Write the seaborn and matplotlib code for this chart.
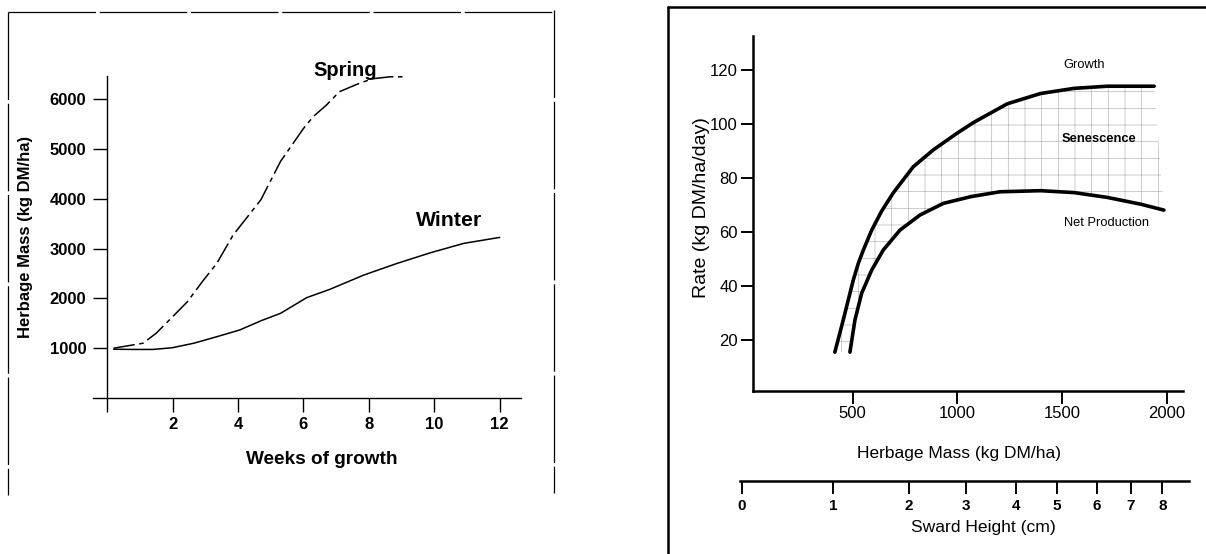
import numpy as np
import matplotlib
matplotlib.use("Agg")
import matplotlib.pyplot as plt
from matplotlib.lines import Line2D
import seaborn as sns

# left panel: herbage mass over weeks of growth
weeks_spring = [0.2, 1.1, 1.5, 2.0, 2.45, 2.95, 3.35, 3.85, 4.7, 5.3, 6.0, 6.3, 6.7, 7.1, 7.6, 8.1, 8.65, 9.15]
mass_spring = [1000, 1100, 1300, 1630, 1930, 2370, 2700, 3270, 3980, 4750, 5410, 5650, 5880, 6150, 6290, 6410, 6450, 6450]
weeks_winter = [0.2, 0.8, 1.4, 2.0, 2.65, 3.35, 4.05, 4.7, 5.3, 6.1, 6.8, 7.85, 8.85, 9.9, 10.9, 12.0]
mass_winter = [980, 975, 975, 1010, 1100, 1230, 1365, 1550, 1700, 2015, 2180, 2470, 2700, 2920, 3105, 3225]
week_ticks = [0, 2, 4, 6, 8, 10, 12]
week_labels = ["", "2", "4", "6", "8", "10", "12"]
mass_ticks = [1000, 2000, 3000, 4000, 5000, 6000]

# right panel: growth and net production rates vs herbage mass
growth_mass = [415, 455, 479, 503, 527, 551, 591, 639, 694, 790, 885, 997, 1076, 1239, 1398, 1557, 1717, 1940]
growth_rate = [15.5, 27.4, 34.8, 42.2, 48.4, 53.3, 60.7, 67.8, 74.5, 84.2, 90.4, 96.5, 100.5, 107.5, 111.3, 113.2, 114.0, 114.0]
net_mass = [487, 511, 543, 591, 646, 726, 822, 933, 1065, 1204, 1398, 1557, 1717, 1876, 1987]
net_rate = [15.5, 27.4, 37.3, 45.9, 53.3, 60.7, 66.3, 70.6, 73.1, 74.9, 75.3, 74.6, 72.8, 70.3, 68.1]
rate_ticks = [20, 40, 60, 80, 100, 120]
herb_ticks = [500, 1000, 1500, 2000]

# sward height scale, placed at its herbage mass equivalent
sward_height = [0, 1, 2, 3, 4, 5, 6, 7, 8]
sward_mass_equiv = [-30, 405, 770, 1040, 1280, 1475, 1665, 1830, 1980]

W, H = 1206, 554


def px_rect(left, top, right, bottom):
    return [left / W, 1 - bottom / H, (right - left) / W, (bottom - top) / H]


sns.set_theme(style="white", rc={"axes.edgecolor": "black", "text.color": "black",
                                 "xtick.color": "black", "ytick.color": "black",
                                 "axes.labelcolor": "black"})
plt.rcParams["font.family"] = ["Liberation Sans", "DejaVu Sans"]
plt.rcParams["hatch.linewidth"] = 0.5

fig = plt.figure(figsize=(W / 100, H / 100), dpi=100)

# ---- left panel
ax1 = fig.add_axes(px_rect(93, 76, 521, 398))
sns.lineplot(x=weeks_spring, y=mass_spring, ax=ax1, color="black", lw=1.1,
             linestyle=(0, (14, 3, 3, 3)), sort=False)
sns.lineplot(x=weeks_winter, y=mass_winter, ax=ax1, color="black", lw=1.1, sort=False)
ax1.set_xlim(-0.43, 12.65)
ax1.set_ylim(0, 6466)
for s in ["top", "right"]:
    ax1.spines[s].set_visible(False)
ax1.spines["left"].set_position(("data", 0))
for s in ["left", "bottom"]:
    ax1.spines[s].set_linewidth(1.0)
ax1.set_xticks(week_ticks, week_labels, fontsize=12, fontweight="bold")
ax1.set_yticks(mass_ticks, [str(v) for v in mass_ticks], fontsize=12, fontweight="bold")
ax1.tick_params(axis="both", direction="out", bottom=True, left=True, length=10, width=1.0)
ax1.tick_params(axis="x", pad=4)
ax1.tick_params(axis="y", pad=5)
ax1.set_xlabel("Weeks of growth", fontsize=13.7, fontweight="bold", va="center")
ax1.xaxis.set_label_coords(0.535, -0.19)
ax1.set_ylabel("Herbage Mass (kg DM/ha)", fontsize=12, fontweight="bold", va="center", ha="center")
ax1.yaxis.set_label_coords(-0.157, 0.5)
ax1.text(7.28, 6586, "Spring", fontsize=14.5, fontweight="bold", ha="center", va="center")
ax1.text(10.44, 3574, "Winter", fontsize=15.3, fontweight="bold", ha="center", va="center")

# ---- right panel
ax2 = fig.add_axes(px_rect(753, 36, 1183, 391))
ax2.fill(np.concatenate([growth_mass, net_mass[::-1]]),
         np.concatenate([growth_rate, net_rate[::-1]]),
         facecolor="none", edgecolor="0.72", hatch="+", lw=0)
sns.lineplot(x=growth_mass, y=growth_rate, ax=ax2, color="black", lw=2.6, sort=False)
sns.lineplot(x=net_mass, y=net_rate, ax=ax2, color="black", lw=2.6, sort=False)
ax2.set_xlim(24, 2078)
ax2.set_ylim(1.1, 132.6)
for s in ["top", "right"]:
    ax2.spines[s].set_visible(False)
for s in ["left", "bottom"]:
    ax2.spines[s].set_linewidth(1.8)
ax2.set_xticks(herb_ticks, [str(v) for v in herb_ticks], fontsize=12)
ax2.set_yticks(rate_ticks, [str(v) for v in rate_ticks], fontsize=12)
ax2.tick_params(axis="both", direction="out", bottom=True, left=True, length=9, width=1.4)
ax2.tick_params(axis="x", pad=2)
ax2.tick_params(axis="y", pad=2)
ax2.set_xlabel("Herbage Mass (kg DM/ha)", fontsize=12.5, va="center")
ax2.xaxis.set_label_coords(0.48, -0.175)
ax2.set_ylabel("Rate (kg DM/ha/day)", fontsize=14, va="center", ha="center")
ax2.yaxis.set_label_coords(-0.119, 0.518)
ax2.text(1605, 121.9, "Growth", fontsize=9.3, ha="center", va="center")
ax2.text(1677, 94.3, "Senescence", fontsize=9.3, fontweight="bold", ha="center", va="center")
ax2.text(1713, 63.5, "Net Production", fontsize=9.3, ha="center", va="center")

# ---- sward height scale
ax3 = fig.add_axes(px_rect(740, 471, 1189, 481))
ax3.set_xlim(-38.5, 2107)
ax3.patch.set_visible(False)
for s in ["top", "right", "left"]:
    ax3.spines[s].set_visible(False)
ax3.spines["bottom"].set_linewidth(1.8)
ax3.set_yticks([])
ax3.set_xticks(sward_mass_equiv, [str(v) for v in sward_height], fontsize=11, fontweight="bold")
ax3.tick_params(axis="x", direction="out", bottom=True, length=9, width=1.4, pad=4)
ax3.set_xlabel("Sward Height (cm)", fontsize=12.6, va="center")
ax3.xaxis.set_label_coords(0.543, -4.6)

# ---- scanned panel frames
frame_l = dict(color="black", lw=0.9, transform=fig.transFigure, linestyle=(0, (70, 3)))
fig.add_artist(Line2D([8 / W, 554 / W], [1 - 12 / H, 1 - 12 / H], **frame_l))
fig.add_artist(Line2D([8 / W, 8 / W], [1 - 12 / H, 1 - 495 / H], **frame_l))
fig.add_artist(Line2D([554 / W, 554 / W], [1 - 10 / H, 1 - 493 / H], **frame_l))
frame_r = dict(color="black", lw=1.8, transform=fig.transFigure)
fig.add_artist(Line2D([668 / W, 1.0], [1 - 7 / H, 1 - 7 / H], **frame_r))
fig.add_artist(Line2D([668 / W, 668 / W], [1 - 7 / H, 0.0], **frame_r))

fig.savefig("out.png", dpi=100, facecolor="white")
